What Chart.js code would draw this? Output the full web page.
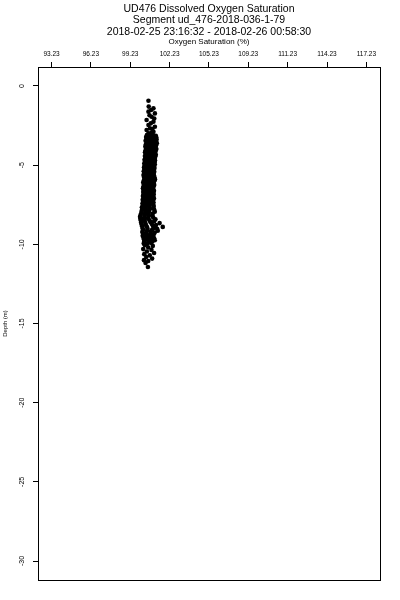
<!DOCTYPE html>
<html><head><meta charset="utf-8">
<script src="https://cdn.jsdelivr.net/npm/chart.js@4"></script>
<style>html,body{margin:0;padding:0;background:#fff}canvas{display:block}</style>
</head><body>
<canvas id="c" width="400" height="600"></canvas>
<script>
const titleLines = ['UD476 Dissolved Oxygen Saturation', 'Segment ud_476-2018-036-1-79', '2018-02-25 23:16:32 - 2018-02-26 00:58:30'];
const xAxisTitle = 'Oxygen Saturation (%)';
const yAxisTitle = 'Depth (m)';
const xTickValues = [93.23, 96.23, 99.23, 102.23, 105.23, 108.23, 111.23, 114.23, 117.23];
const xTickLabels = ['93.23', '96.23', '99.23', '102.23', '105.23', '109.23', '111.23', '114.23', '117.23'];
const yTickValues = [0, -5, -10, -15, -20, -25, -30];
const yTickLabels = ['0', '-5', '-10', '-15', '-20', '-25', '-30'];

const depth = [
-0.93,-1.30,-1.41,-1.62,-1.73,-1.94,-2.15,-2.25,-2.46,-2.57,-2.67,-2.78,-2.89,-2.99,
-1.52,-1.85,-2.05,-2.36,-2.72,-2.94,
-3.10,-3.13,-3.08,-3.14,
-3.22,-3.25,-3.20,-3.26,
-3.34,-3.37,-3.32,-3.38,
-3.46,-3.49,-3.44,-3.50,
-3.58,-3.61,-3.56,-3.62,
-3.70,-3.73,-3.68,-3.74,
-3.82,-3.85,-3.80,-3.86,
-3.94,-3.97,-3.92,-3.98,
-4.06,-4.09,-4.04,-4.10,
-4.18,-4.21,-4.16,-4.22,
-4.30,-4.33,-4.28,-4.34,
-4.42,-4.45,-4.40,-4.46,
-4.54,-4.57,-4.52,-4.58,
-4.66,-4.69,-4.64,-4.70,
-4.78,-4.81,-4.76,-4.82,
-4.90,-4.93,-4.88,-4.94,
-5.02,-5.05,-5.00,-5.06,
-5.14,-5.17,-5.12,-5.18,
-5.26,-5.29,-5.24,-5.30,
-5.38,-5.41,-5.36,-5.42,
-5.50,-5.53,-5.48,-5.54,
-5.62,-5.65,-5.60,-5.66,
-5.74,-5.77,-5.72,-5.78,
-5.86,-5.89,-5.84,-5.90,
-5.98,-6.01,-5.96,-6.02,
-6.10,-6.13,-6.08,-6.14,
-6.22,-6.25,-6.20,-6.26,
-6.34,-6.37,-6.32,-6.38,
-6.46,-6.49,-6.44,-6.50,
-6.58,-6.61,-6.56,-6.62,
-6.70,-6.73,-6.68,-6.74,
-6.82,-6.85,-6.80,-6.86,
-6.94,-6.97,-6.92,-6.98,
-7.06,-7.09,-7.04,-7.10,
-7.18,-7.21,-7.16,-7.22,
-7.30,-7.33,-7.28,-7.34,
-7.42,-7.45,-7.40,-7.46,
-7.54,-7.57,-7.52,-7.58,
-7.66,-7.69,-7.64,-7.70,
-7.78,-7.81,-7.76,-7.82,
-7.90,-7.93,-7.88,-7.94,
-8.02,-8.05,-8.00,-8.06,
-8.14,-8.17,-8.12,-8.18,
-8.26,-8.29,-8.24,-8.30,
-8.38,-8.41,-8.36,-8.42,
-8.50,-8.53,-8.48,-8.54,
-8.62,-8.65,-8.60,-8.66,
-8.74,-8.77,-8.72,-8.78,
-8.86,-8.89,-8.84,-8.90,
-8.98,-9.01,-8.96,-9.02,
-9.10,-9.13,-9.08,-9.14,
-9.22,-9.25,-9.20,-9.26,
-9.34,-9.37,-9.32,-9.38,
-9.46,-9.49,-9.44,-9.50,
-9.58,-9.61,-9.56,-9.62,
-9.70,-9.73,-9.68,-9.74,
-9.82,-9.85,-9.80,
-9.94,-9.97,-9.92,
-10.05,-10.10,-10.20,-10.30,-10.35,-10.45,-10.55,-10.62,-10.70,-10.80,-10.90,-11.00,-11.05,-11.18,-11.43
];
const oxygen = [
100.62,100.64,101.00,100.62,101.11,100.86,100.48,101.00,100.62,101.11,100.73,100.48,101.00,100.62,
100.82,100.70,101.06,100.80,100.92,100.85,
100.50,100.72,100.96,101.18,
100.44,100.68,100.92,101.22,
100.46,100.74,101.00,101.24,
100.40,100.66,100.94,101.20,
100.48,100.75,101.02,101.26,
100.42,100.68,100.95,101.20,
100.38,100.62,100.88,101.15,
100.45,100.70,100.96,101.22,
100.40,100.65,100.90,101.17,
100.36,100.60,100.86,101.12,
100.42,100.68,100.94,101.18,
100.35,100.62,100.88,101.14,
100.38,100.64,100.90,101.10,
100.32,100.58,100.84,101.12,
100.36,100.62,100.88,101.08,
100.30,100.56,100.82,101.10,
100.34,100.60,100.86,101.06,
100.28,100.54,100.80,101.08,
100.32,100.58,100.84,101.04,
100.26,100.52,100.78,101.06,
100.30,100.56,100.82,101.02,
100.24,100.50,100.76,101.04,
100.28,100.55,100.80,101.08,
100.32,100.58,100.84,101.12,
100.26,100.52,100.78,101.05,
100.22,100.48,100.74,101.02,
100.28,100.54,100.80,101.06,
100.24,100.50,100.76,101.00,
100.20,100.46,100.72,100.98,
100.26,100.52,100.78,101.04,
100.22,100.48,100.74,101.00,
100.25,100.50,100.76,101.02,
100.20,100.46,100.72,100.98,
100.24,100.50,100.76,101.04,
100.18,100.44,100.70,100.96,
100.22,100.48,100.74,101.00,
100.16,100.42,100.68,100.98,
100.20,100.46,100.72,101.02,
100.12,100.40,100.68,101.00,
100.15,100.44,100.74,101.06,
100.10,100.38,100.66,101.10,
100.08,100.36,100.64,100.95,
100.02,100.32,100.60,100.90,
99.98,100.30,100.62,100.98,
100.00,100.28,100.58,101.15,
100.04,100.34,100.70,101.05,
100.06,100.38,100.78,101.47,
100.10,100.42,100.88,101.20,
100.14,100.50,100.96,101.71,
100.18,100.55,101.05,101.28,
100.20,100.52,100.90,101.33,
100.15,100.45,100.80,101.10,
100.22,100.50,100.78,101.02,
100.18,100.46,100.74,100.96,
100.24,100.52,100.80,101.05,
100.28,100.58,100.86,101.10,
100.30,100.62,100.92,
100.26,100.55,100.84,
100.35,100.95,100.60,100.22,100.85,100.50,101.05,100.30,100.72,100.45,100.90,100.28,100.60,100.40,100.58
];

const FONT = "'Liberation Sans', Arial, Helvetica, sans-serif";
Chart.defaults.font.family = FONT;
Chart.defaults.color = '#000';

const framePlugin = {
  id: 'frame',
  afterDraw(chart) {
    const a = chart.chartArea, ctx = chart.ctx;
    ctx.save();
    ctx.strokeStyle = '#000';
    ctx.lineWidth = 1;
    ctx.strokeRect(Math.round(a.left) + 0.5, Math.round(a.top) + 0.5,
                   Math.round(a.right - a.left), Math.round(a.bottom - a.top));
    ctx.restore();
  }
};

new Chart(document.getElementById('c'), {
  type: 'scatter',
  data: {
    datasets: [{
      data: oxygen.map((o, i) => ({ x: o, y: depth[i] })),
      backgroundColor: '#000',
      borderColor: '#000',
      borderWidth: 0,
      pointRadius: 2.3,
      pointHoverRadius: 2.3
    }]
  },
  options: {
    responsive: false,
    animation: false,
    devicePixelRatio: 1,
    events: [],
    layout: { padding: { left: 0, right: 20, top: 0, bottom: 20 } },
    plugins: {
      legend: { display: false },
      tooltip: { enabled: false },
      title: {
        display: true, text: titleLines, color: '#000', fullSize: false,
        font: { size: 10.5, weight: 'normal', lineHeight: 1.1 },
        padding: { top: 3, bottom: 0 }
      }
    },
    scales: {
      x: {
        type: 'linear', position: 'top', min: 92.2, max: 118.27,
        afterBuildTicks: s => { s.ticks = xTickValues.map(v => ({ value: v })); },
        afterFit: s => { s.height = 29.35; },
        ticks: {
          autoSkip: false, maxRotation: 0, minRotation: 0, color: '#000',
          font: { size: 6.5 }, padding: 4,
          callback: (v, i) => xTickLabels[i]
        },
        grid: { display: true, drawOnChartArea: false, drawTicks: true, tickLength: 5, tickWidth: 1, tickColor: '#000' },
        border: { display: true, color: '#000', width: 1 },
        title: { display: true, text: xAxisTitle, color: '#000', font: { size: 8 }, padding: { top: -1, bottom: 0 } }
      },
      y: {
        type: 'linear', position: 'left', min: -31.2, max: 1.2,
        afterBuildTicks: s => { s.ticks = yTickValues.map(v => ({ value: v })); },
        afterFit: s => { s.width = 38; },
        ticks: {
          autoSkip: false, minRotation: 90, maxRotation: 90, crossAlign: 'center', color: '#000',
          font: { size: 7 }, padding: 6,
          callback: (v, i) => yTickLabels[i]
        },
        grid: { display: true, drawOnChartArea: false, drawTicks: true, tickLength: 5, tickWidth: 1, tickColor: '#000' },
        border: { display: true, color: '#000', width: 1 },
        title: { display: true, text: yAxisTitle, color: '#000', font: { size: 6 }, padding: { top: 2, bottom: 0 } }
      }
    }
  },
  plugins: [framePlugin]
});
</script>
</body></html>
